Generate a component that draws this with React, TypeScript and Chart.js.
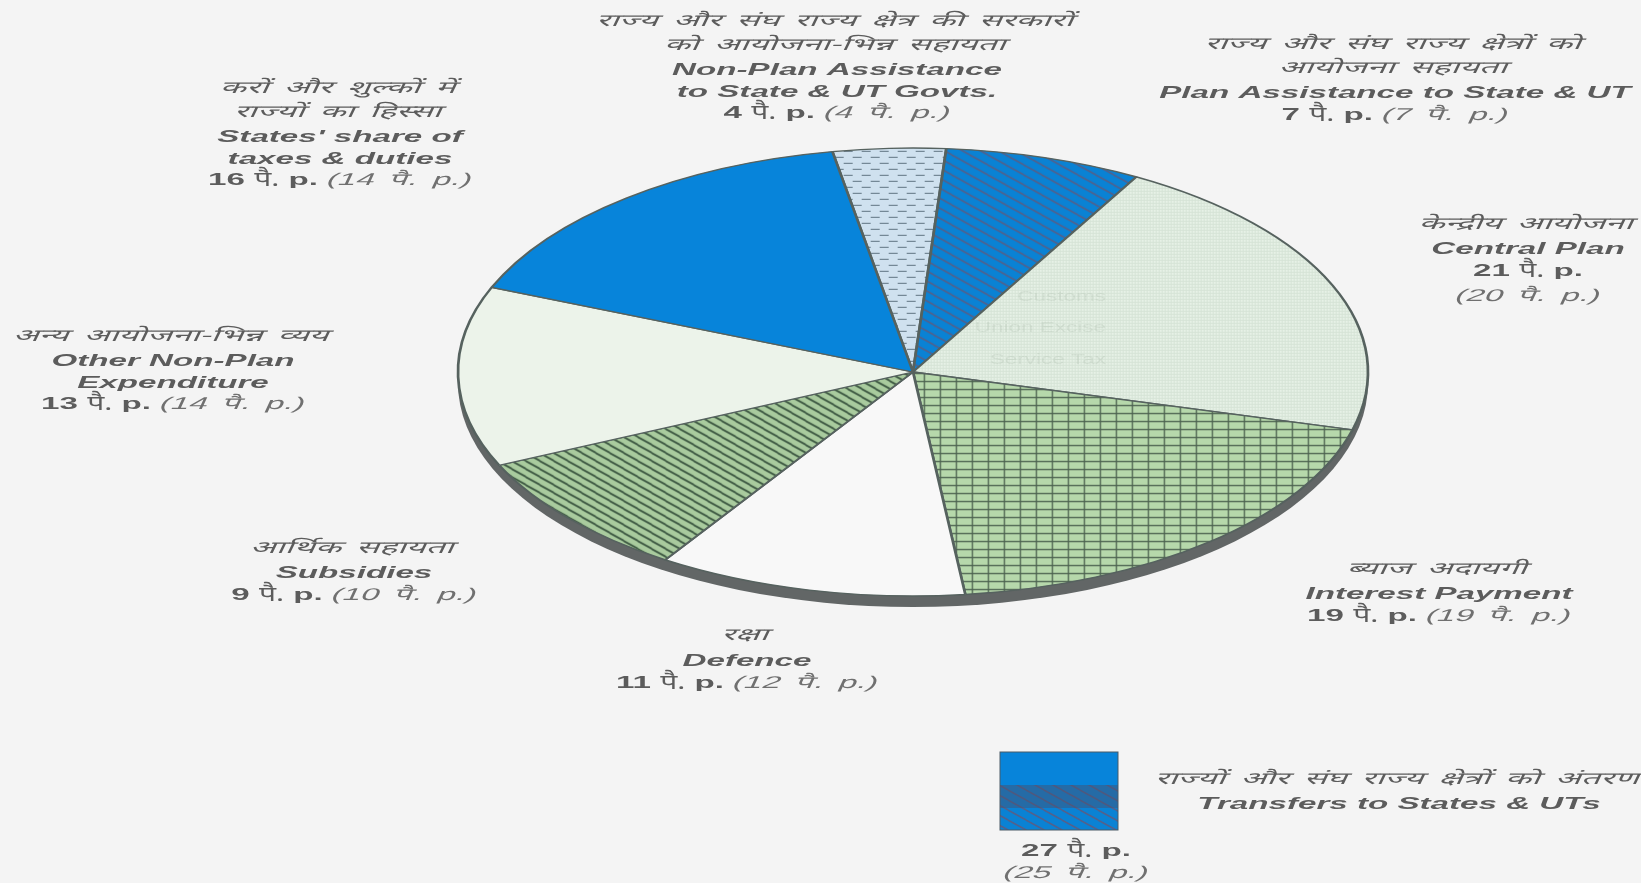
import { useEffect, useRef } from "react";
import { Chart, registerables } from "chart.js";

Chart.register(...registerables);

const namesHi = [
  ["राज्य और संघ राज्य क्षेत्र की सरकारों", "को आयोजना-भिन्न सहायता"],
  ["राज्य और संघ राज्य क्षेत्रों को", "आयोजना सहायता"],
  ["केन्द्रीय आयोजना"],
  ["ब्याज अदायगी"],
  ["रक्षा"],
  ["आर्थिक सहायता"],
  ["अन्य आयोजना-भिन्न व्यय"],
  ["करों और शुल्कों में", "राज्यों का हिस्सा"],
];
const namesEn = [
  ["Non-Plan Assistance", "to State & UT Govts."],
  ["Plan Assistance to State & UT"],
  ["Central Plan"],
  ["Interest Payment"],
  ["Defence"],
  ["Subsidies"],
  ["Other Non-Plan", "Expenditure"],
  ["States' share of", "taxes & duties"],
];
const currentPaise = [4, 7, 21, 19, 11, 9, 13, 16];
const previousPaise = [4, 7, 20, 19, 12, 10, 14, 14];
const transfersPaise = 27;
const transfersPrevious = 25;
const showThroughWords = ["Customs", "Union Excise", "Service Tax"];

// Where each label block sits: centre x and the y of every line, top to bottom.
const labelLayout = [
  { x: 837, ys: [21, 45, 70, 92, 113] },
  { x: 1395, ys: [44, 68, 93, 115] },
  { x: 1528, ys: [224, 249, 271, 296] },
  { x: 1439, ys: [569, 594, 616] },
  { x: 747, ys: [635, 661, 683] },
  { x: 354, ys: [548, 573, 595] },
  { x: 173, ys: [336, 361, 383, 404] },
  { x: 340, ys: [88, 112, 137, 159, 180] },
];
const showThroughYs = [297, 328, 360];

const PAGE = "#f4f4f4";
const INK = "#5c5c5c";
const SOFT_INK = "#707070";
const OUTLINE = "#56625f";
const BLUE = "#0784da";
const CENTER = { x: 913, y: 372 };
const RADIUS = { x: 455, y: 224 };
const BASE_R = 400;
const SX = RADIUS.x / BASE_R;
const SY = RADIUS.y / BASE_R;
const RIM = 11;
const HI_FONT = '"Noto Sans", "Liberation Sans", sans-serif';
const EN_FONT = '"Liberation Sans", Arial, sans-serif';
const WIDEN = 1.95;
const SLANT = -0.24;

type Painter = (g: CanvasRenderingContext2D, w: number, h: number) => void;

function makeTile(w: number, h: number, paint: Painter, undoScale: boolean): CanvasPattern {
  const tile = document.createElement("canvas");
  tile.width = w;
  tile.height = h;
  paint(tile.getContext("2d")!, w, h);
  const p = document.createElement("canvas").getContext("2d")!.createPattern(tile, "repeat")!;
  // Arcs are filled under the elliptical transform, so cancel it for the hatch.
  if (undoScale) p.setTransform(new DOMMatrix().scale(1 / SX, 1 / SY));
  return p;
}

const fillBg = (g: CanvasRenderingContext2D, c: string, w: number, h: number) => {
  g.fillStyle = c;
  g.fillRect(0, 0, w, h);
};

const dashes: Painter = (g, w, h) => {
  fillBg(g, "#cfe1ef", w, h);
  g.fillStyle = "#5f7482";
  g.fillRect(0, 2, 9, 1);
  g.fillRect(9, 8, 9, 1);
};
const diagonal = (bg: string, line: string, width: number): Painter => (g, w, h) => {
  fillBg(g, bg, w, h);
  g.strokeStyle = line;
  g.lineWidth = width;
  for (const off of [-h, 0, h]) {
    g.beginPath();
    g.moveTo(-2, off - 1);
    g.lineTo(w + 2, off + h + 1);
    g.stroke();
  }
};
const grid = (bg: string, line: string, width: number): Painter => (g, w, h) => {
  fillBg(g, bg, w, h);
  g.fillStyle = line;
  g.fillRect(0, 0, width, h);
  g.fillRect(0, 0, w, width);
};

function sliceColors(undo: boolean): (CanvasPattern | string)[] {
  return [
    makeTile(18, 12, dashes, undo),
    makeTile(18, 10, diagonal("#0a82d4", "#55608a", 1.6), undo),
    makeTile(3, 3, grid("#e6f1e6", "#d6e4d7", 1), undo),
    makeTile(16, 8, grid("#b6d8ab", "#4c6250", 1.3), undo),
    "#f8f8f8",
    makeTile(14, 8, diagonal("#a9cb9e", "#3d5842", 1.8), undo),
    "#ecf3ea",
    BLUE,
  ];
}

type Run = { text: string; font: string; color?: string; slant?: number; widen?: number; gap?: number };

function drawRuns(ctx: CanvasRenderingContext2D, runs: Run[], cx: number, y: number) {
  const c = ctx as CanvasRenderingContext2D & { wordSpacing: string };
  ctx.save();
  ctx.textBaseline = "middle";
  ctx.textAlign = "left";
  const widths = runs.map((r) => {
    ctx.font = r.font;
    c.wordSpacing = `${r.gap ?? 0}px`;
    return ctx.measureText(r.text).width * (r.widen ?? WIDEN);
  });
  let at = cx - widths.reduce((a, b) => a + b, 0) / 2;
  runs.forEach((r, i) => {
    ctx.save();
    ctx.font = r.font;
    c.wordSpacing = `${r.gap ?? 0}px`;
    ctx.fillStyle = r.color ?? INK;
    ctx.translate(at, y);
    ctx.scale(r.widen ?? WIDEN, 1);
    ctx.transform(1, 0, r.slant ?? 0, 1, 0, 0);
    ctx.fillText(r.text, 0, 0);
    ctx.restore();
    at += widths[i];
  });
  ctx.restore();
}

const hiRun = (text: string): Run => ({ text, font: `17px ${HI_FONT}`, slant: SLANT, widen: 2, gap: 3 });
const enRun = (text: string): Run => ({ text, font: `italic bold 17px ${EN_FONT}` });
const nowRuns = (v: number): Run[] => [
  { text: `${v} `, font: `bold 17px ${EN_FONT}` },
  { text: "पै.", font: `20px ${HI_FONT}`, widen: 1.5 },
  { text: " p.", font: `bold 17px ${EN_FONT}` },
];
const prevRun = (v: number): Run => ({
  text: `(${v} पै. p.)`,
  font: `17px ${EN_FONT}, ${HI_FONT}`,
  color: SOFT_INK,
  slant: SLANT,
  gap: 3,
});
const space: Run = { text: " ", font: `17px ${EN_FONT}` };

const ellipsePlugin = {
  id: "ellipsePie",
  beforeDatasetsDraw(chart: Chart) {
    const { ctx } = chart;
    const arc = chart.getDatasetMeta(0).data[0] as unknown as { x: number; y: number };
    // The raised edge of the disc, seen below the top face.
    ctx.save();
    ctx.fillStyle = "#626666";
    ctx.beginPath();
    ctx.ellipse(CENTER.x, CENTER.y + RIM, RADIUS.x, RADIUS.y, 0, 0, Math.PI * 2);
    ctx.fill();
    ctx.restore();
    // Squash the circular pie into an ellipse.
    ctx.save();
    ctx.translate(CENTER.x, CENTER.y);
    ctx.scale(SX, SY);
    ctx.translate(-arc.x, -arc.y);
  },
  afterDatasetsDraw(chart: Chart) {
    chart.ctx.restore();
  },
};

const labelsPlugin = {
  id: "sliceLabels",
  afterDraw(chart: Chart) {
    const { ctx } = chart;

    // Print from the reverse of the sheet, faintly visible through the paper.
    ctx.save();
    ctx.fillStyle = "rgba(80,95,80,0.09)";
    ctx.font = `15px ${EN_FONT}`;
    ctx.textAlign = "right";
    ctx.textBaseline = "middle";
    showThroughWords.forEach((w, i) => {
      ctx.save();
      ctx.translate(1106, showThroughYs[i]);
      ctx.scale(1.5, 1);
      ctx.fillText(w, 0, 0);
      ctx.restore();
    });
    ctx.restore();

    labelLayout.forEach((block, i) => {
      const lines: Run[][] = [
        ...namesHi[i].map((t) => [hiRun(t)]),
        ...namesEn[i].map((t) => [enRun(t)]),
      ];
      if (i === 2) {
        // Central Plan is narrow enough that its two figures are stacked.
        lines.push(nowRuns(currentPaise[i]), [prevRun(previousPaise[i])]);
      } else {
        lines.push([...nowRuns(currentPaise[i]), space, prevRun(previousPaise[i])]);
      }
      lines.forEach((runs, k) => drawRuns(ctx, runs, block.x, block.ys[k]));
    });

    // Combined key for the two transfer slices.
    const colors = sliceColors(false);
    ctx.save();
    ctx.fillStyle = BLUE;
    ctx.fillRect(1000, 752, 118, 33);
    ctx.fillStyle = colors[1];
    ctx.fillRect(1000, 785, 118, 45);
    ctx.fillStyle = "rgba(70,80,110,0.45)";
    ctx.fillRect(1000, 785, 118, 23);
    ctx.strokeStyle = "#4a5a66";
    ctx.lineWidth = 1;
    ctx.strokeRect(1000, 752, 118, 78);
    ctx.restore();
    drawRuns(ctx, [hiRun("राज्यों और संघ राज्य क्षेत्रों को अंतरण")], 1399, 779);
    drawRuns(ctx, [enRun("Transfers to States & UTs")], 1399, 804);
    drawRuns(ctx, nowRuns(transfersPaise), 1076, 851);
    drawRuns(ctx, [prevRun(transfersPrevious)], 1076, 873);
  },
};

export default function App() {
  const ref = useRef<HTMLCanvasElement>(null);
  useEffect(() => {
    const chart = new Chart(ref.current!, {
      type: "pie",
      data: {
        labels: namesEn.map((n) => n.join(" ")),
        datasets: [
          {
            data: currentPaise,
            backgroundColor: sliceColors(true),
            borderColor: OUTLINE,
            borderWidth: 2.4,
            clip: false,
          } as never,
        ],
      },
      options: {
        responsive: false,
        animation: false,
        radius: BASE_R,
        rotation: -10.2,
        events: [],
        plugins: { legend: { display: false }, tooltip: { enabled: false } },
      } as never,
      plugins: [ellipsePlugin, labelsPlugin],
    });
    return () => chart.destroy();
  }, []);
  return (
    <div style={{ position: "fixed", inset: 0, background: PAGE }}>
      <canvas ref={ref} width={1641} height={883} style={{ display: "block" }} />
    </div>
  );
}
